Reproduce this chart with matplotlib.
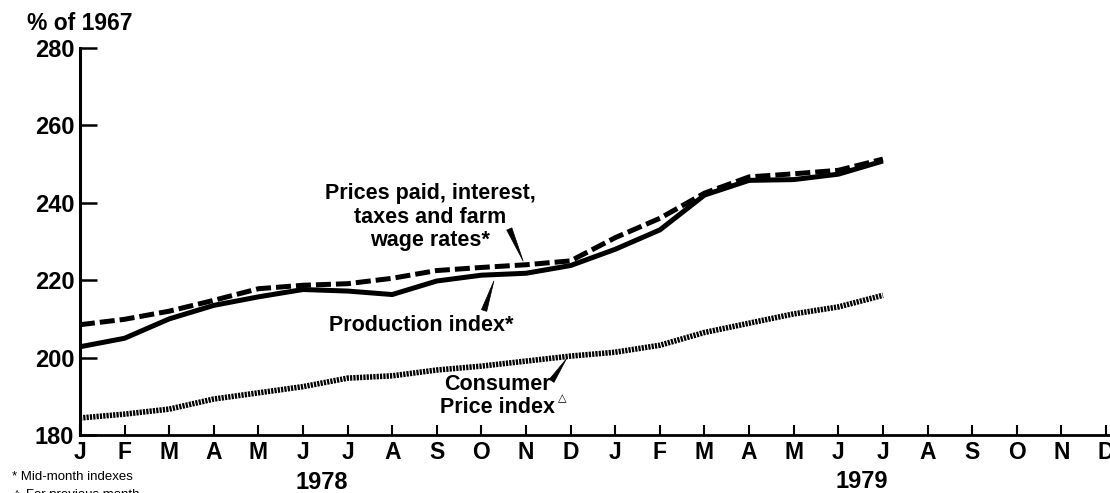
import matplotlib
matplotlib.use("Agg")
import matplotlib.pyplot as plt

plt.rcParams["font.family"] = ["Liberation Sans", "DejaVu Sans"]
plt.rcParams["font.weight"] = "bold"

# monthly values, Jan 1978 - Jul 1979 (% of 1967)
months = list(range(19))
production = [202.8, 205.0, 210.0, 213.5, 215.7, 217.6, 217.2, 216.3, 219.8, 221.3,
              221.8, 223.8, 228.0, 233.0, 242.0, 245.8, 246.0, 247.4, 250.8]
prices_paid = [208.5, 209.9, 212.0, 214.8, 217.8, 218.7, 219.1, 220.5, 222.5, 223.3,
               224.0, 225.0, 231.0, 236.0, 242.5, 246.7, 247.5, 248.4, 251.3]
cpi = [184.4, 185.4, 186.7, 189.3, 190.9, 192.5, 194.7, 195.3, 196.8, 197.8,
       199.1, 200.4, 201.4, 203.2, 206.5, 208.9, 211.3, 213.1, 216.1]
month_labels = ["J", "F", "M", "A", "M", "J", "J", "A", "S", "O", "N", "D"] * 2
y_ticks = [180, 200, 220, 240, 260, 280]

fig = plt.figure(figsize=(11.1, 4.93), dpi=100)
ax = fig.add_axes([0.072, 0.1176, 0.928, 0.785])

ax.plot(months, production, color="black", lw=3.6, solid_capstyle="butt")
ax.plot(months, prices_paid, color="black", lw=3.6, linestyle=(0, (3.0, 1.0)))
ax.plot(months, cpi, color="black", lw=4.0, linestyle=(0, (0.4, 0.2)))

ax.set_xlim(0, 23.09)
ax.set_ylim(180, 280)
ax.set_xticks(range(24))
ax.set_xticklabels(month_labels, fontsize=16.5, fontweight="bold")
ax.set_yticks(y_ticks)
ax.set_yticklabels([str(v) for v in y_ticks], fontsize=17, fontweight="bold")
ax.tick_params(axis="x", direction="in", length=7, width=1.5, pad=4)
ax.tick_params(axis="y", direction="in", length=12, width=1.8, pad=4)
for side in ["top", "right"]:
    ax.spines[side].set_visible(False)
ax.spines["left"].set_linewidth(2.2)
ax.spines["bottom"].set_linewidth(2.0)

# labels and leaders
ax.text(7.85, 236.3, "Prices paid, interest,\ntaxes and farm\nwage rates*",
        ha="center", va="center", fontsize=15.5, fontweight="bold", linespacing=1.15)
ax.text(7.65, 208.4, "Production index*", ha="center", va="center",
        fontsize=15.5, fontweight="bold")
ax.text(9.35, 190.1, "Consumer\nPrice index", ha="center", va="center",
        fontsize=15.5, fontweight="bold", linespacing=1.1)
ax.text(10.72, 189.6, "\u25b3", ha="left", va="center", fontsize=8,
        family=["DejaVu Sans"])

wedge = dict(arrowstyle="wedge,tail_width=0.4,shrink_factor=0.5",
             fc="black", ec="black", lw=0.5)
ax.annotate("", xy=(9.96, 224.3), xytext=(9.6, 233.9), arrowprops=wedge)
ax.annotate("", xy=(9.3, 220.5), xytext=(9.04, 211.5), arrowprops=wedge)
ax.annotate("", xy=(10.94, 200.3), xytext=(10.54, 193.4), arrowprops=wedge)

fig.text(0.0243, 0.953, "% of 1967", ha="left", va="center",
         fontsize=16.5, fontweight="bold")
fig.text(0.290, 0.022, "1978", ha="center", va="center", fontsize=17, fontweight="bold")
fig.text(0.776, 0.024, "1979", ha="center", va="center", fontsize=17, fontweight="bold")
fig.text(0.0108, 0.0325, "* Mid-month indexes", ha="left", va="center",
         fontsize=9.5, fontweight="normal")
fig.text(0.0108, -0.004, "\u25b3 For previous month", ha="left", va="center",
         fontsize=9.5, fontweight="normal", family=["Liberation Sans", "DejaVu Sans"])

fig.savefig("out.png", dpi=100)
